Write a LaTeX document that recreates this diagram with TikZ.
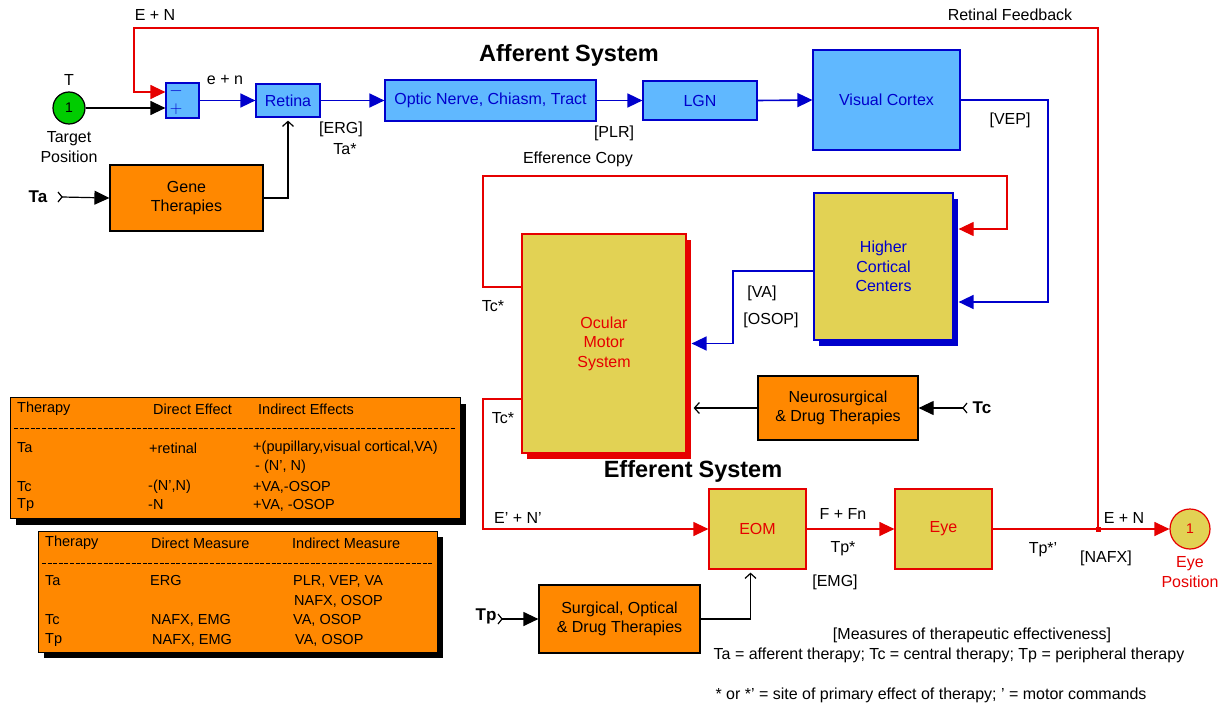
\documentclass[tikz,border=0pt]{standalone}
\usepackage{fontspec}
\setmainfont{Liberation Sans}
\usetikzlibrary{arrows.meta,shadows}
\definecolor{lblue}{RGB}{96,184,255}
\definecolor{dblue}{RGB}{0,0,204}
\definecolor{eorange}{RGB}{255,136,0}
\definecolor{eyellow}{RGB}{226,210,84}
\definecolor{ered}{RGB}{230,0,0}
\definecolor{egreen}{RGB}{0,204,0}
\tikzset{
  blk/.style={draw, line width=1.2pt, inner sep=0pt, align=center},
  bbox/.style={blk, fill=lblue, draw=dblue, text=dblue},
  ybox/.style={blk, fill=eyellow, draw=ered, text=ered},
  obox/.style={blk, fill=eorange, draw=black},
  tbox/.style={draw=black, line width=1pt, fill=eorange, inner sep=0pt,
     drop shadow={shadow xshift=6pt, shadow yshift=-6pt, fill=black, opacity=1}},
  bl/.style={draw=dblue, line width=1.6pt},
  rl/.style={draw=ered, line width=1.2pt},
  kl/.style={draw=black, line width=1.2pt},
  tipf/.style={-{Triangle[length=15pt,width=14pt]}},
  tipo/.style={-{Straight Barb[length=5pt,width=11pt]}},
  lbl/.style={inner sep=0pt},
  tl/.style={inner sep=0pt, anchor=west, font=\fontsize{14.5}{16}\selectfont},
  ttl/.style={inner sep=0pt, font=\fontsize{23.5}{25}\selectfont\bfseries},
  inp/.style={inner sep=0pt, font=\fontsize{17}{18}\selectfont\bfseries},
}
\begin{document}
\begin{tikzpicture}[x=1pt,y=-1pt, font=\fontsize{16}{19.5}\selectfont]
\useasboundingbox[fill=white] (0,0) rectangle (1222,706);

% ---------- afferent blocks
\node[circle, draw=black, fill=egreen, line width=1.2pt, minimum size=32pt, inner sep=0pt, font=\fontsize{14}{14}\selectfont] (target) at (69,108) {1};
\node[lbl] (tT) at (69,80) {T};
\node[lbl, align=center] (tpos) at (69,147) {Target\\Position};

\node[bbox, minimum width=33pt, minimum height=35pt] (sum) at (182.5,100.5) {};
\node[lbl, text=dblue, font=\fontsize{19}{19}\selectfont] (sminus) at (176,91) {$-$};
\node[lbl, text=dblue, font=\fontsize{19}{19}\selectfont] (splus) at (176,109) {$+$};

\node[bbox, minimum width=64pt, minimum height=33pt] (retina) at (288,100.5) {Retina};
\node[bbox, minimum width=211pt, minimum height=41pt] (optic) at (490.5,100.5) {Optic Nerve, Chiasm, Tract};
\node[bbox, minimum width=114pt, minimum height=39pt] (lgn) at (700,100.5) {LGN};
\node[bbox, minimum width=147pt, minimum height=100pt] (vc) at (886.5,100) {Visual Cortex};

\node[obox, minimum width=153pt, minimum height=66pt] (gene) at (186.5,198) {Gene\\Therapies};

% ---------- central blocks
\node[ybox, text=dblue, draw=dblue, minimum width=139pt, minimum height=147pt,
  drop shadow={shadow xshift=5pt, shadow yshift=-6pt, fill=dblue, opacity=1}] (hcc) at (883.5,266.5) {Higher\\Cortical\\Centers};
\node[ybox, minimum width=164pt, minimum height=219pt,
  drop shadow={shadow xshift=5pt, shadow yshift=-6pt, fill=ered, opacity=1}] (oms) at (604,343.5) {Ocular\\Motor\\System};
\node[obox, minimum width=160pt, minimum height=64pt] (neuro) at (838,408) {Neurosurgical\\\& Drug Therapies};

% ---------- efferent blocks
\node[ybox, minimum width=97pt, minimum height=80pt] (eom) at (757.5,529) {EOM};
\node[ybox, minimum width=97pt, minimum height=80pt] (eye) at (943.5,529) {Eye};
\node[circle, draw=ered, fill=eyellow, text=ered, line width=1.2pt, minimum size=40pt, inner sep=0pt, font=\fontsize{14}{14}\selectfont] (eyepos) at (1190,529) {1};
\node[lbl, text=ered, align=center] (tepos) at (1190,572) {Eye\\Position};
\node[obox, minimum width=161pt, minimum height=68pt] (surg) at (619.5,619) {Surgical, Optical\\\& Drug Therapies};

% ---------- titles and labels
\node[ttl] (taff) at (569,55) {Afferent\hspace{6pt}System};
\node[ttl] (teff) at (693,471) {Efferent\hspace{6pt}System};
\node[lbl] (lEN1) at (155,15) {E + N};
\node[lbl] (lRF) at (1010,15) {Retinal Feedback};
\node[lbl] (len) at (225,80) {e + n};
\node[lbl] (lerg) at (341,129) {[ERG]};
\node[lbl] (lta) at (345,149) {Ta*};
\node[lbl] (lplr) at (614,133) {[PLR]};
\node[lbl] (lvep) at (1010,120) {[VEP]};
\node[lbl] (lec) at (578,159) {Efference Copy};
\node[lbl] (lva) at (762,293) {[VA]};
\node[lbl] (losop) at (771,320) {[OSOP]};
\node[lbl] (ltc1) at (493,306) {Tc*};
\node[lbl] (ltc2) at (503,418) {Tc*};
\node[lbl] (lENp) at (518,518) {E' + N'};
\node[lbl] (lFFn) at (843,514) {F + Fn};
\node[lbl] (ltp) at (843,549) {Tp*};
\node[lbl] (lemg) at (835,582) {[EMG]};
\node[lbl] (ltpp) at (1043,550) {Tp*'};
\node[lbl] (lEN2) at (1124,518) {E + N};
\node[lbl] (lnafx) at (1106,558) {[NAFX]};
\node[lbl] (lmeas) at (972,635) {[Measures of therapeutic effectiveness]};
\node[lbl] (ldef) at (949,655) {Ta = afferent therapy; Tc = central therapy; Tp = peripheral therapy};
\node[lbl] (lstar) at (931,695) {* or *' = site of primary effect of therapy; ' = motor commands};

% ---------- therapy inputs
\node[inp] (inTa) at (38,197) {Ta};
\node[inp] (inTc) at (982,408) {Tc};
\node[inp] (inTp) at (486,616) {Tp};
\coordinate (cTa) at (62,197);
\coordinate (cTc) at (963,408);
\coordinate (cTp) at (502,619);
\draw[kl] ([shift={(-4,-5)}]cTa) -- (cTa) -- ([shift={(-4,5)}]cTa);
\draw[kl] ([shift={(4,-5)}]cTc) -- (cTc) -- ([shift={(4,5)}]cTc);
\draw[kl] ([shift={(-4,-5)}]cTp) -- (cTp) -- ([shift={(-4,5)}]cTp);
\draw[kl, tipf] (cTa) -- (gene.west);
\draw[kl, tipf] (cTc) -- (neuro.east);
\draw[kl, tipf] (cTp) -- (surg.west);

% ---------- connectors
\draw[kl, tipf] (target.east) -- ([yshift=-7.5pt]sum.west);
\coordinate (junc) at (1098,529);
\draw[rl, tipf] (junc) -- (1098,28) -- (134,28) -- (134,92) -- ([yshift=8.5pt]sum.west);
\draw[bl, tipf] (sum.east) -- (retina.west);
\draw[bl, tipf] (retina.east) -- (optic.west);
\draw[bl, tipf] (optic.east) -- (lgn.west);
\draw[bl, tipf] (lgn.east) -- (vc.west);
\draw[kl, tipo, shorten >=3pt] (gene.east) -| (retina.south);
\draw[bl, tipf] (vc.east) -- (1048,100) |- ([xshift=5pt,yshift=-35.5pt]hcc.east);
\draw[rl, tipf] ([yshift=56.5pt]oms.west) -- (483,287) |- (1007,176) |- ([xshift=5pt,yshift=37.5pt]hcc.east);
\draw[bl, tipf] ([yshift=-4.5pt]hcc.west) -- (733,271) |- ([xshift=5pt]oms.east);
\draw[kl, tipo] (neuro.west) -- ([xshift=7pt]oms.east |- neuro.west);
\draw[rl, tipf] ([yshift=-55.5pt]oms.west) -- (483,399) |- (eom.west);
\draw[rl, tipf] (eom.east) -- (eye.west);
\draw[rl, tipf] (eye.east) -- (eyepos.west);
\fill[ered] ([shift={(-2.5,-2.5)}]junc) rectangle ([shift={(2.5,2.5)}]junc);
\draw[kl, tipo, shorten >=3pt] (surg.east) -| ([xshift=-7pt]eom.south);

% ---------- tables
\node[tbox, minimum width=450pt, minimum height=121pt] (tab1) at (235,458) {};
\draw[black, line width=0.8pt, dash pattern=on 4pt off 1.6pt] (14,428) -- (455,428);
\node[tl] (t1h1) at (17,409) {Therapy};
\node[tl] (t1h2) at (153,409) {Direct Effect};
\node[tl] (t1h3) at (258,409) {Indirect Effects};
\node[tl] (t1a1) at (17,448) {Ta};
\node[tl] (t1a2) at (149,448) {+retinal};
\node[tl] (t1a3) at (253,448) {+(pupillary,visual cortical,VA)};
\node[tl] (t1a4) at (255,467) {- (N', N)};
\node[tl] (t1c1) at (17,487) {Tc};
\node[tl] (t1c2) at (148,487) {-(N',N)};
\node[tl] (t1c3) at (253,487) {+VA,-OSOP};
\node[tl] (t1p1) at (17,505) {Tp};
\node[tl] (t1p2) at (148,505) {-N};
\node[tl] (t1p3) at (253,505) {+VA, -OSOP};

\node[tbox, minimum width=399pt, minimum height=121pt] (tab2) at (237.5,591.5) {};
\draw[black, line width=0.8pt, dash pattern=on 4pt off 1.6pt] (42,563) -- (432,563);
\node[tl] (t2h1) at (45,543) {Therapy};
\node[tl] (t2h2) at (151,543) {Direct Measure};
\node[tl] (t2h3) at (292,543) {Indirect Measure};
\node[tl] (t2a1) at (45,581) {Ta};
\node[tl] (t2a2) at (150,581) {ERG};
\node[tl] (t2a3) at (293,581) {PLR, VEP, VA};
\node[tl] (t2a4) at (294,601) {NAFX, OSOP};
\node[tl] (t2c1) at (45,620) {Tc};
\node[tl] (t2c2) at (151,620) {NAFX, EMG};
\node[tl] (t2c3) at (293,620) {VA, OSOP};
\node[tl] (t2p1) at (45,640) {Tp};
\node[tl] (t2p2) at (152,640) {NAFX, EMG};
\node[tl] (t2p3) at (295,640) {VA, OSOP};
\end{tikzpicture}
\end{document}
